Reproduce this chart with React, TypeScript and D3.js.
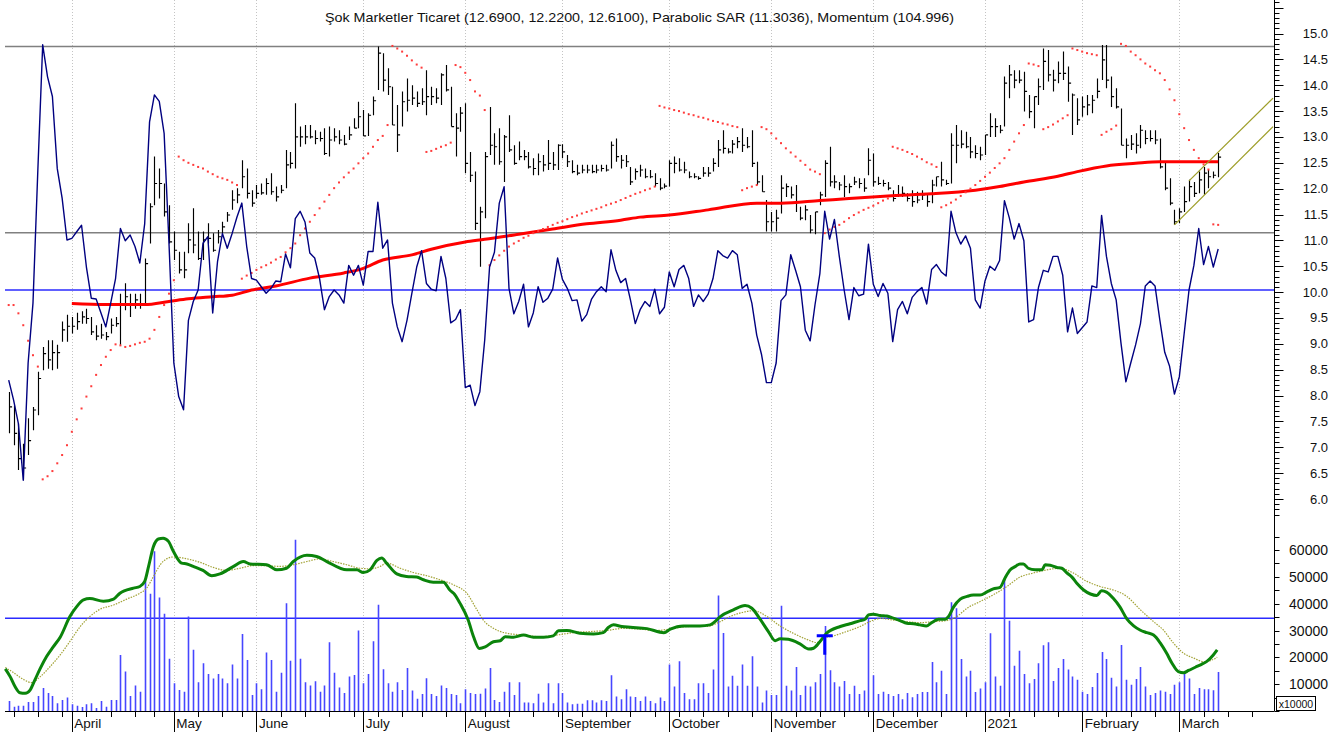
import * as d3 from "d3";

const W = 1341;
const H = 738;

const title =
  "Şok Marketler Ticaret (12.6900, 12.2200, 12.6100), Parabolic SAR (11.3036), Momentum (104.996)";

// Borsa Istanbul closed days inside the range
const holidays = [
  "2020-04-23", "2020-05-01", "2020-05-19", "2020-05-25", "2020-05-26",
  "2020-07-15", "2020-07-31", "2020-08-03", "2020-10-29", "2021-01-01",
];

// daily bars, 13 Mar 2020 .. 11 Mar 2021
const high = [
  8.07, 7.81, 7.46, 7.07, 7.56, 7.78, 8.46, 8.94, 9.07, 9.07,
  8.98, 9.43, 9.56, 9.52, 9.6, 9.63, 9.68, 9.52, 9.36, 9.39,
  9.23, 9.49, 9.52, 9.97, 10.17, 9.97, 9.97, 9.97, 10.65, 11.72,
  12.62, 12.39, 12.1, 11.68, 11.17, 10.78, 10.78, 11.33, 11.62, 11.17,
  11.17, 11.33, 11.14, 11.2, 11.36, 11.55, 11.97, 12.01, 12.55, 12.39,
  11.97, 12.07, 12.1, 12.2, 12.3, 12.04, 12.07, 12.75, 12.71, 13.65,
  13.2, 13.23, 13.23, 13.13, 13.1, 13.17, 13.2, 13.17, 13.13, 13.04,
  13.2, 13.36, 13.68, 13.52, 13.46, 13.78, 14.75, 14.62, 14.33, 13.97,
  13.62, 13.88, 14.13, 14.0, 13.88, 13.94, 14.29, 13.97, 13.94, 14.23,
  14.39, 13.97, 13.46, 13.58, 13.65, 12.71, 12.33, 11.65, 12.71, 13.58,
  13.07, 13.17, 13.04, 13.42, 12.84, 12.91, 12.75, 12.71, 12.59, 12.68,
  12.65, 12.94, 12.71, 12.86, 12.86, 12.65, 12.55, 12.46, 12.46, 12.46,
  12.46, 12.46, 12.46, 12.46, 12.91, 12.97, 12.65, 12.65, 12.42, 12.39,
  12.46, 12.39, 12.36, 12.3, 12.2, 12.1, 12.55, 12.62, 12.59, 12.52,
  12.33, 12.3, 12.24, 12.42, 12.42, 12.59, 12.94, 13.13, 12.78, 12.94,
  13.0, 13.17, 13.0, 13.13, 12.52, 12.26, 11.78, 11.55, 11.59, 12.26,
  12.1, 12.04, 12.07, 11.65, 11.68, 11.49, 11.55, 11.94, 12.55, 12.81,
  12.26, 12.13, 12.26, 12.1, 12.23, 12.2, 12.2, 12.78, 12.68, 12.23,
  12.17, 12.13, 11.97, 12.07, 12.04, 11.91, 11.97, 11.94, 11.97, 11.91,
  12.17, 12.23, 12.52, 12.17, 13.07, 13.23, 13.13, 13.1, 13.0, 12.84,
  12.81, 13.04, 13.46, 13.36, 13.23, 14.17, 14.39, 14.29, 14.29, 14.26,
  13.81, 13.78, 14.13, 14.71, 14.68, 14.3, 14.46, 14.65, 14.36, 13.84,
  13.75, 13.78, 13.81, 13.81, 14.13, 14.78, 14.78, 14.17, 13.94, 13.55,
  12.97, 13.04, 13.07, 13.23, 13.13, 13.13, 13.13, 12.97, 12.52, 12.2,
  11.59, 11.62, 12.04, 12.17, 12.13, 12.33, 12.42, 12.36, 12.33, 12.69,
];

const low = [
  7.27, 7.04, 6.56, 6.37, 6.85, 7.33, 7.62, 8.49, 8.52, 8.49,
  8.52, 9.04, 9.04, 9.2, 9.27, 9.39, 9.39, 9.17, 9.07, 9.1,
  9.07, 9.2, 9.33, 8.98, 9.65, 9.52, 9.68, 9.68, 9.78, 10.94,
  11.68, 11.81, 11.46, 10.94, 10.62, 10.36, 10.27, 10.75, 10.75, 10.62,
  10.62, 10.94, 10.78, 10.94, 11.14, 11.36, 11.59, 11.72, 12.01, 11.81,
  11.65, 11.81, 11.88, 11.88, 11.88, 11.75, 11.91, 12.01, 12.39, 12.39,
  12.81, 12.86, 12.97, 12.86, 12.91, 12.65, 12.62, 12.91, 12.86, 12.84,
  12.94, 13.17, 13.17, 13.02, 13.02, 13.42, 13.91, 13.88, 13.81, 13.23,
  12.71, 13.2, 13.49, 13.62, 13.58, 13.62, 13.42, 13.62, 13.65, 13.62,
  13.88, 13.2, 12.62, 13.1, 12.3, 12.13, 11.2, 10.49, 11.43, 12.65,
  12.46, 12.46, 12.13, 12.71, 12.46, 12.55, 12.55, 12.39, 12.26, 12.26,
  12.33, 12.36, 12.36, 12.36, 12.59, 12.42, 12.3, 12.26, 12.3, 12.3,
  12.3, 12.3, 12.33, 12.33, 12.39, 12.52, 12.39, 12.42, 12.07, 12.17,
  12.23, 12.2, 12.2, 12.04, 11.97, 12.01, 12.04, 12.3, 12.33, 12.3,
  12.2, 12.2, 12.17, 12.23, 12.23, 12.33, 12.42, 12.68, 12.68, 12.68,
  12.78, 12.71, 12.78, 12.42, 12.07, 11.94, 11.17, 11.17, 11.17, 11.52,
  11.84, 11.81, 11.55, 11.39, 11.39, 11.14, 11.12, 11.68, 11.84, 12.04,
  12.01, 11.97, 11.84, 11.91, 12.07, 12.01, 11.94, 12.26, 12.04, 12.07,
  12.04, 11.97, 11.75, 11.84, 11.84, 11.75, 11.65, 11.72, 11.78, 11.65,
  11.72, 12.04, 12.04, 12.07, 12.1, 12.49, 12.78, 12.78, 12.59, 12.59,
  12.55, 12.65, 13.0, 13.0, 13.07, 13.2, 13.75, 13.94, 14.04, 13.49,
  13.36, 13.17, 13.62, 13.91, 14.07, 13.88, 14.04, 14.1, 13.68, 13.04,
  13.23, 13.39, 13.42, 13.46, 13.75, 14.1, 13.94, 13.58, 13.55, 12.84,
  12.59, 12.75, 12.68, 12.78, 12.86, 12.91, 12.86, 12.39, 11.97, 11.68,
  11.3, 11.33, 11.55, 11.75, 11.84, 11.91, 11.88, 12.01, 12.2, 12.22,
];

const close = [
  7.78, 7.27, 6.78, 6.6, 7.13, 7.72, 8.33, 8.81, 8.69, 8.83,
  8.83, 9.27, 9.34, 9.34, 9.43, 9.52, 9.49, 9.23, 9.15, 9.17,
  9.14, 9.36, 9.39, 9.78, 9.91, 9.78, 9.85, 9.75, 10.55, 11.65,
  12.1, 12.1, 11.55, 10.97, 10.81, 10.43, 10.43, 11.01, 10.91, 10.65,
  11.01, 11.04, 10.81, 11.07, 11.26, 11.49, 11.78, 11.88, 12.23, 11.91,
  11.72, 11.91, 11.92, 12.1, 11.94, 11.84, 11.97, 12.46, 12.49, 13.0,
  13.0, 13.0, 13.0, 12.97, 12.97, 12.68, 12.94, 13.0, 12.94, 12.86,
  13.04, 13.17, 13.39, 13.02, 13.42, 13.7, 14.62, 14.1, 13.97, 13.23,
  13.04, 13.68, 13.71, 13.75, 13.65, 13.68, 13.78, 13.78, 13.75, 14.2,
  13.91, 13.2, 13.17, 13.46, 12.49, 12.26, 11.33, 11.55, 12.62, 12.84,
  12.81, 12.52, 13.0, 12.75, 12.49, 12.62, 12.62, 12.42, 12.39, 12.52,
  12.46, 12.49, 12.46, 12.84, 12.71, 12.52, 12.33, 12.3, 12.36, 12.36,
  12.33, 12.36, 12.39, 12.36, 12.84, 12.62, 12.55, 12.52, 12.13, 12.33,
  12.36, 12.23, 12.23, 12.1, 12.01, 12.05, 12.49, 12.49, 12.36, 12.36,
  12.23, 12.23, 12.2, 12.3, 12.3, 12.49, 12.75, 12.78, 12.71, 12.86,
  12.91, 12.84, 12.81, 12.49, 12.13, 11.94, 11.36, 11.36, 11.43, 12.01,
  12.04, 11.88, 11.75, 11.43, 11.59, 11.2, 11.55, 11.88, 12.49, 12.13,
  12.13, 12.07, 12.04, 12.04, 12.13, 12.1, 12.01, 12.55, 12.13, 12.1,
  12.1, 12.01, 11.81, 11.88, 11.91, 11.81, 11.75, 11.78, 11.88, 11.75,
  12.07, 12.23, 12.17, 12.1, 12.84, 12.84, 12.86, 12.81, 12.71, 12.68,
  12.65, 13.04, 13.2, 13.2, 13.13, 14.04, 14.2, 14.1, 14.1, 13.88,
  13.49, 13.78, 13.97, 14.46, 14.2, 14.1, 14.23, 14.23, 14.04, 13.81,
  13.33, 13.58, 13.62, 13.71, 13.88, 14.49, 14.1, 13.78, 13.58, 12.84,
  12.84, 12.86, 12.84, 13.13, 12.97, 12.97, 12.94, 12.42, 12.01, 11.72,
  11.36, 11.55, 11.75, 12.04, 11.91, 12.17, 12.3, 12.23, 12.26, 12.61,
];

const momentum = [
  89.0, 86.6, 83.7, 76.8, 91.1, 98.4, 114.6, 129.9, 126.0, 123.6,
  114.8, 111.2, 106.1, 106.3, 107.1, 107.9, 102.8, 99.0, 98.9, 97.2,
  95.5, 98.4, 101.4, 107.5, 106.0, 106.7, 105.3, 103.3, 108.1, 120.5,
  123.8, 123.0, 119.1, 105.7, 91.1, 87.0, 85.4, 96.3, 98.6, 100.0,
  105.7, 106.5, 97.2, 103.5, 106.9, 105.1, 106.9, 108.9, 110.6, 105.3,
  101.4, 101.2, 100.4, 99.6, 100.2, 101.1, 101.0, 104.4, 102.7, 108.7,
  109.6, 108.3, 104.5, 103.9, 101.4, 97.6, 99.2, 100.0, 99.4, 98.4,
  103.0, 101.8, 103.0, 100.6, 104.7, 104.7, 110.7, 105.1, 106.1, 98.4,
  95.5, 93.7, 96.3, 99.6, 102.8, 104.8, 100.8, 100.1, 99.9, 104.1,
  101.4, 96.0, 96.4, 97.6, 88.1, 88.4, 85.9, 87.6, 93.9, 102.8,
  104.6, 110.6, 112.6, 100.2, 97.1, 98.6, 100.7, 95.5, 97.2, 100.4,
  98.5, 99.0, 100.1, 103.9, 101.3, 100.2, 98.7, 98.8, 96.2, 97.0,
  98.9, 99.8, 100.4, 99.8, 104.9, 102.4, 100.9, 101.4, 98.8, 95.9,
  97.6, 98.6, 98.0, 100.1, 97.1, 97.9, 102.2, 100.4, 102.5, 103.0,
  101.4, 98.0, 99.4, 98.6, 99.5, 101.4, 104.8, 104.2, 103.9, 104.8,
  104.3, 100.2, 100.7, 98.4, 94.5, 92.1, 88.7, 88.7, 91.1, 98.7,
  99.4, 104.3, 102.4, 100.4, 95.1, 93.8, 98.2, 102.0, 109.6, 106.2,
  108.6, 104.1, 100.0, 96.4, 100.3, 99.3, 99.5, 105.6, 100.7, 99.2,
  100.8, 99.6, 93.7, 97.6, 98.6, 97.1, 99.1, 99.8, 100.3, 98.3,
  102.5, 103.1, 102.2, 101.7, 109.6, 107.0, 105.6, 106.6, 105.1, 98.8,
  97.8, 101.1, 102.9, 102.4, 103.6, 110.9, 108.8, 106.2, 108.1, 106.0,
  96.1, 96.4, 100.3, 102.4, 102.2, 104.1, 104.1, 101.8, 94.9, 97.8,
  94.7, 95.4, 96.1, 100.5, 100.3, 109.1, 104.1, 100.8, 98.8, 93.5,
  88.8, 91.1, 93.3, 95.9, 100.5, 101.1, 100.5, 96.3, 92.4, 90.7,
  87.3, 89.4, 94.7, 100.0, 103.0, 107.5, 103.1, 105.3, 102.8, 105.0,
];

const sar = [
  9.75, 9.75, 9.59, 9.36, 9.06, 8.78, 8.56, 6.38, 6.44, 6.54,
  6.69, 6.85, 7.04, 7.3, 7.54, 7.75, 7.98, 8.18, 8.4, 8.59,
  8.75, 8.88, 8.99, 8.97, 8.94, 8.96, 8.99, 9.02, 9.04, 9.1,
  9.27, 9.52, 9.75, 9.97, 10.23, 12.62, 12.55, 12.5, 12.46, 12.42,
  12.39, 12.33, 12.28, 12.23, 12.2, 12.17, 12.12, 12.07, 10.26, 10.32,
  10.37, 10.43, 10.48, 10.52, 10.57, 10.63, 10.68, 10.77, 10.85, 10.94,
  11.1, 11.23, 11.36, 11.49, 11.62, 11.75, 11.88, 12.01, 12.12, 12.22,
  12.31, 12.39, 12.49, 12.59, 12.68, 12.81, 12.94, 13.02, 13.23, 14.76,
  14.71, 14.65, 14.57, 14.48, 14.4, 14.34, 12.71, 12.73, 12.77, 12.81,
  12.84, 12.89, 14.39, 14.35, 14.24, 14.1, 13.88, 13.8, 13.52, 10.52,
  10.62, 10.71, 10.8, 10.88, 10.94, 10.99, 11.05, 11.09, 11.14, 11.18,
  11.22, 11.26, 11.3, 11.34, 11.37, 11.41, 11.45, 11.48, 11.52, 11.55,
  11.58, 11.61, 11.64, 11.68, 11.71, 11.74, 11.78, 11.82, 11.86, 11.9,
  11.93, 11.97, 12.0, 12.04, 13.6, 13.57, 13.55, 13.52, 13.5, 13.47,
  13.44, 13.42, 13.39, 13.37, 13.34, 13.31, 13.29, 13.26, 13.24, 13.21,
  13.19, 11.97, 12.01, 12.04, 12.07, 13.19, 13.15, 13.07, 12.97, 12.88,
  12.78, 12.7, 12.62, 12.54, 12.46, 12.37, 12.33, 12.28, 11.14, 11.21,
  11.26, 11.3, 11.36, 11.43, 11.49, 11.54, 11.59, 11.63, 11.67, 11.72,
  11.77, 11.81, 12.81, 12.78, 12.75, 12.71, 12.67, 12.62, 12.57, 12.51,
  12.47, 12.42, 11.64, 11.68, 11.73, 11.79, 11.86, 11.93, 12.0, 12.07,
  12.15, 12.23, 12.31, 12.4, 12.49, 12.59, 12.75, 12.91, 13.07, 13.23,
  14.42, 14.4, 14.37, 13.15, 13.19, 13.24, 13.3, 13.36, 13.42, 14.71,
  14.68, 14.65, 14.62, 14.6, 14.58, 13.04, 13.1, 13.15, 13.22, 14.8,
  14.76, 14.65, 14.58, 14.5, 14.42, 14.36, 14.29, 14.23, 14.1, 13.92,
  13.71, 13.44, 13.17, 12.94, 12.75, 12.59, 12.47, 12.37, 11.31, 11.3,
];

// volume in thousands (axis labels count in these units x 1000)
const volume = [
  3.7, 1.6, 2.0, 2.0, 3.4, 3.4, 5.6, 8.6, 6.7, 5.6,
  2.9, 4.1, 5.0, 2.5, 2.0, 1.5, 2.5, 2.9, 1.1, 3.7,
  1.6, 4.1, 4.1, 20.9, 14.7, 5.6, 9.5, 7.2, 48.3, 43.7,
  59.5, 42.3, 36.2, 19.5, 10.3, 7.8, 7.2, 35.2, 22.8, 10.7,
  17.8, 13.8, 12.1, 13.8, 12.1, 10.3, 17.3, 12.1, 28.7, 19.0,
  6.0, 10.3, 8.1, 21.8, 19.0, 7.2, 14.3, 40.2, 18.7, 63.8,
  19.5, 10.7, 9.5, 11.1, 7.2, 9.5, 25.6, 14.3, 8.8, 6.7,
  12.9, 13.4, 30.0, 10.3, 13.8, 26.0, 39.6, 15.6, 10.3, 7.2,
  10.7, 7.8, 16.0, 7.6, 4.6, 6.3, 12.2, 6.3, 5.6, 9.5,
  8.6, 6.3, 6.0, 2.9, 8.1, 6.7, 6.3, 6.4, 8.4, 16.0,
  4.1, 3.4, 7.2, 10.7, 6.0, 10.7, 3.2, 3.2, 2.9, 6.4,
  3.2, 10.3, 2.9, 10.3, 6.7, 3.2, 2.5, 2.7, 2.7, 4.0,
  4.0, 3.2, 4.0, 3.7, 13.3, 5.4, 4.4, 8.1, 5.4, 5.2,
  3.7, 5.4, 3.7, 2.9, 5.0, 3.7, 17.3, 9.1, 18.5, 6.7,
  4.4, 4.4, 10.3, 10.3, 6.7, 15.5, 43.0, 29.1, 9.1, 13.1,
  9.4, 17.3, 9.4, 20.4, 9.1, 3.2, 7.6, 6.0, 6.0, 39.2,
  9.4, 7.6, 16.4, 6.0, 9.4, 9.1, 10.7, 13.8, 31.7, 15.2,
  10.7, 9.1, 11.2, 6.3, 9.4, 6.3, 7.6, 34.6, 13.3, 6.3,
  7.2, 6.3, 5.6, 6.3, 4.4, 6.7, 5.1, 6.3, 7.1, 7.1,
  18.3, 10.7, 15.0, 6.3, 40.5, 38.3, 19.4, 12.9, 15.0, 7.1,
  8.4, 10.7, 29.0, 12.9, 9.4, 48.9, 33.6, 16.9, 22.5, 13.8,
  10.3, 11.9, 17.8, 24.5, 25.6, 11.2, 16.0, 19.4, 15.5, 12.9,
  11.6, 7.2, 6.3, 8.9, 14.2, 22.0, 19.4, 12.4, 9.1, 24.6,
  11.6, 9.8, 11.9, 16.4, 9.1, 6.0, 6.7, 7.6, 7.2, 6.3,
  9.8, 10.7, 14.2, 12.1, 6.3, 8.6, 8.1, 8.1, 7.7, 14.5,
];

// long moving average of price: [bar, value]
const priceMa: [number, number][] = [
  [13, 9.78], [20, 9.76], [28, 9.76], [33, 9.82], [37, 9.87], [42, 9.91],
  [46, 9.94], [50, 10.04], [55, 10.12], [62, 10.27], [69, 10.37], [73, 10.46],
  [77, 10.62], [83, 10.72], [87, 10.83], [94, 10.97], [98, 11.02], [105, 11.12],
  [112, 11.22], [119, 11.32], [126, 11.39], [130, 11.45], [136, 11.49], [144, 11.59],
  [154, 11.72], [159, 11.72], [167, 11.77], [173, 11.81], [181, 11.86], [190, 11.9],
  [199, 11.97], [204, 12.04], [209, 12.13], [216, 12.24], [220, 12.33], [226, 12.44],
  [232, 12.49], [237, 12.52], [249, 12.52],
];

// volume averages (thousands): [bar, value]
const volMaFast: [number, number][] = [
  [-0.7, 15.7], [0.3, 12.8], [1.3, 9.1], [2.3, 6.8], [3.4, 6.6], [4.4, 7.8], [5.4, 11.6],
  [6.5, 15.9], [7.8, 20.3], [9.2, 24.0], [10.6, 27.5], [12.6, 35.2], [14.0, 38.9],
  [15.4, 41.4], [16.7, 41.9], [19.5, 40.9], [21.6, 41.7], [22.9, 43.9], [25.7, 45.8],
  [27.0, 46.4], [28.0, 48.3], [28.8, 53.9], [29.8, 61.3], [30.8, 64.1], [31.8, 64.4],
  [32.9, 63.2], [33.9, 59.5], [35.6, 55.1], [36.7, 54.8], [38.0, 53.9], [40.0, 52.4],
  [41.8, 50.4], [43.5, 51.1], [46.3, 53.9], [48.3, 55.7], [49.7, 54.8], [53.1, 54.5],
  [55.2, 52.6], [57.2, 53.2], [58.6, 55.7], [61.4, 58.0], [63.4, 57.6], [65.5, 55.7],
  [69.6, 52.6], [71.7, 52.6], [73.0, 51.6], [74.4, 52.6], [75.8, 56.1], [76.8, 57.0],
  [77.8, 55.1], [79.9, 51.1], [81.9, 50.1], [84.0, 49.9], [85.4, 48.9], [87.4, 48.0],
  [89.5, 48.0], [90.9, 44.9], [91.6, 43.9], [92.9, 40.2], [94.6, 33.9], [95.7, 27.7],
  [96.9, 23.3], [98.1, 23.9], [99.8, 25.8], [101.2, 26.2], [102.2, 27.7], [103.9, 27.5],
  [106, 28.3], [108, 27.5], [110.1, 27.5], [112.1, 28.0], [113.2, 29.9], [114.9, 30.0],
  [117.6, 29.0], [120.4, 28.7], [122.4, 29.2], [123.5, 31.2], [124.5, 32.1], [126.2, 31.5],
  [128, 31.2], [131.4, 30.7], [134.9, 29.2], [136.2, 30.5], [138.9, 31.7], [142.3, 31.7],
  [144.4, 32.1], [145.4, 33.3], [146.5, 35.2], [149.2, 37.7], [151.6, 39.3], [153, 38.3],
  [154.7, 34.2], [156.4, 29.6], [157.8, 26.2], [158.8, 26.9], [160.5, 26.7], [162.9, 25.0],
  [164.7, 23.1], [165.7, 23.4], [167, 25.8], [168.4, 29.0], [171.2, 31.5], [173.2, 32.5],
  [175.3, 33.7], [176.3, 34.2], [177, 35.8], [178, 36.1], [179.4, 35.6], [180.8, 35.4],
  [182.1, 34.6], [183.5, 33.7], [184.9, 32.7], [186.3, 32.5], [187.6, 32.1], [188.9, 31.7],
  [190, 32.9], [191.4, 34.2], [192.8, 34.2], [193.5, 35.2], [194.5, 38.7], [195.9, 41.7],
  [197.3, 42.7], [198.6, 43.2], [200, 43.2], [201.4, 44.4], [202.7, 45.5], [204.1, 46.1],
  [205.1, 49.5], [206.2, 52.6], [207.2, 53.8], [208.2, 54.8], [208.9, 54.8], [209.9, 53.2],
  [211.3, 52.6], [212.7, 52.6], [213.4, 54.5], [214.4, 54.3], [215.8, 53.5], [216.8, 53.2],
  [217.9, 51.4], [218.9, 49.9], [219.9, 47.6], [221.3, 45.1], [222.7, 43.6], [224, 43.0],
  [225, 44.8], [226, 44.3], [227.4, 42.0], [228.8, 38.7], [230.2, 34.3], [231.6, 31.7],
  [232.9, 30.2], [234.3, 29.2], [235.7, 28.3], [237.1, 25.3], [238.4, 21.5], [239.5, 17.8],
  [240.8, 14.7], [241.9, 14.3], [242.9, 15.1], [244.3, 16.3], [245.6, 17.4], [246.6, 18.4],
  [248, 20.9], [248.8, 22.8],
];

const volMaSlow: [number, number][] = [
  [-0.7, 16.2], [1.0, 14.3], [3.0, 11.8], [4.7, 10.6], [6.5, 12.8], [8.5, 16.5],
  [10.6, 20.9], [12.6, 25.9], [14.7, 31.4], [16.7, 35.2], [18.8, 37.9], [21.6, 39.5],
  [24.3, 41.7], [27.0, 43.9], [28.4, 45.8], [29.8, 50.1], [31.2, 54.5], [32.5, 56.7],
  [33.9, 57.4], [36.7, 56.7], [39.4, 55.4], [42.1, 53.5], [44.9, 52.4], [47.6, 53.2],
  [50.4, 54.2], [53.1, 54.1], [55.9, 53.9], [58.6, 54.5], [61.4, 55.7], [64.1, 56.7],
  [66.8, 55.7], [69.6, 54.5], [72.3, 53.2], [74.4, 53.0], [76.5, 53.9], [77.8, 55.1],
  [80.6, 53.2], [83.3, 51.6], [86.1, 50.4], [88.8, 48.9], [91.6, 47.0], [94.3, 43.9],
  [96.4, 37.7], [97.7, 33.9], [99.8, 30.8], [102.5, 29.0], [106, 28.3], [109.4, 27.7],
  [112.8, 28.3], [116.3, 29.2], [119.7, 29.6], [123.1, 30.0], [126.6, 30.8], [130, 30.5],
  [133.4, 30.0], [136.9, 30.8], [140.3, 31.5], [143.7, 31.5], [145.8, 32.7], [148.5, 35.2],
  [152, 37.1], [153.3, 37.4], [156.1, 35.2], [158.8, 31.7], [161.5, 29.0], [164.3, 26.7],
  [166.4, 25.5], [167.8, 27.1], [169.8, 28.0], [172.5, 29.6], [175.3, 31.5], [177.3, 33.3],
  [179.4, 34.5], [182.1, 33.9], [184.9, 33.3], [187.6, 32.9], [190.4, 33.3], [193.1, 33.7],
  [195.2, 35.2], [197.3, 38.3], [200, 40.8], [202.7, 43.3], [205.5, 46.4], [208.2, 49.9],
  [210.9, 51.4], [213.7, 52.6], [216.5, 53.2], [219.2, 51.4], [222, 48.3], [224.7, 46.4],
  [227.4, 45.1], [230.2, 42.7], [233, 37.7], [235.7, 33.3], [237.7, 30.2], [239.8, 25.3],
  [241.9, 21.5], [244, 19.7], [246, 18.4], [247.4, 18.8], [248.8, 20.0],
];

const priceLevels = [14.75, 11.15];
const volumeLevel = 34.6;
const momentumBase = 100;

// trend channel drawn on the last leg: [bar, price] pairs
const channel: [number, number][][] = [
  [[240, 11.3], [260.3, 13.2]],
  [[243, 12.15], [260.3, 13.75]],
];

// signal marker in the volume pane
const signal = { bar: 168, top: 28, bottom: 21 };

const FONT = "'Liberation Sans', Arial, Helvetica, sans-serif";

export default function App() {
  const left = 5;
  const right = 1274.5;
  const volBase = 711;

  const x = d3.scaleLinear().domain([-0.76, 260.7]).range([left, right + 0.5]);
  const yPrice = d3.scaleLinear().domain([6, 15]).range([499, 33.5]);
  const yMom = d3.scaleLinear().domain([100, 105]).range([290, 249]);
  const yVol = d3.scaleLinear().domain([0, 60]).range([volBase, 550]);

  // trading calendar
  const fmt = d3.timeFormat("%Y-%m-%d");
  const closed = new Set(holidays);
  const days = d3.timeDay
    .range(new Date(2020, 2, 13), new Date(2021, 3, 5))
    .filter((d) => d.getDay() !== 0 && d.getDay() !== 6 && !closed.has(fmt(d)))
    .filter((_, i) => i <= 260);

  const weekTicks: number[] = [];
  const monthTicks: { i: number; label: string }[] = [];
  days.forEach((d, i) => {
    if (i === 0) return;
    const p = days[i - 1];
    if (d3.timeMonday.floor(d).getTime() !== d3.timeMonday.floor(p).getTime()) weekTicks.push(i);
    if (d.getMonth() !== p.getMonth()) {
      monthTicks.push({
        i,
        label: d.getMonth() === 0 ? String(d.getFullYear()) : d3.timeFormat("%B")(d),
      });
    }
  });

  // bars
  let barPath = "";
  high.forEach((h, i) => {
    const bx = Math.round(x(i)) + 0.5;
    barPath += `M${bx},${yPrice(h)}V${yPrice(low[i])}`;
    barPath += `M${bx},${yPrice(close[i])}h2.6`;
  });

  let volPath = "";
  volume.forEach((v, i) => {
    const bx = Math.round(x(i)) + 0.5;
    volPath += `M${bx},${yVol(0)}V${yVol(v)}`;
  });

  const maLine = d3
    .line<[number, number]>()
    .x((d) => x(d[0]))
    .y((d) => yPrice(d[1]))
    .curve(d3.curveMonotoneX);

  const momLine = d3
    .line<number>()
    .x((_, i) => x(i))
    .y((d) => yMom(d));

  const volLine = d3
    .line<[number, number]>()
    .x((d) => x(d[0]))
    .y((d) => yVol(d[1]))
    .curve(d3.curveMonotoneX);

  const priceTicks = d3.range(57, 157).map((t) => t / 10);
  const volTicks = d3.range(0, 70, 5);

  const sx = x(signal.bar);

  return (
    <svg
      width={W}
      height={H}
      viewBox={`0 0 ${W} ${H}`}
      style={{ position: "absolute", left: 0, top: 0, background: "#fff" }}
      fontFamily={FONT}
    >
      <rect width={W} height={H} fill="#fff" />

      {/* month grid */}
      {monthTicks.map((m) => (
        <line
          key={`g${m.i}`}
          x1={Math.round(x(m.i)) + 0.5}
          x2={Math.round(x(m.i)) + 0.5}
          y1={0}
          y2={volBase}
          stroke="#c4c4c4"
          strokeDasharray="1,2"
        />
      ))}

      {/* reference levels */}
      {priceLevels.map((p) => (
        <line key={p} x1={left} x2={right} y1={yPrice(p)} y2={yPrice(p)} stroke="#808080" strokeWidth={1.5} />
      ))}
      <line x1={left} x2={right} y1={yMom(momentumBase)} y2={yMom(momentumBase)} stroke="#2b2bff" strokeWidth={1.5} />
      <line x1={left} x2={right} y1={yVol(volumeLevel)} y2={yVol(volumeLevel)} stroke="#2b2bff" strokeWidth={1.5} />

      {/* volume */}
      <path d={volPath} stroke="#4646ff" strokeWidth={1.6} fill="none" />
      <path d={volLine(volMaSlow) ?? ""} fill="none" stroke="#a3a337" strokeWidth={1.2} strokeDasharray="1.5,1.2" />
      <path d={volLine(volMaFast) ?? ""} fill="none" stroke="#0b840b" strokeWidth={3} strokeLinejoin="round" />
      <path
        d={`M${sx - 8},${yVol(signal.top)}H${sx + 8}M${sx},${yVol(signal.top)}V${yVol(signal.bottom)}`}
        stroke="#0000ff"
        strokeWidth={3}
        fill="none"
      />

      {/* price bars */}
      <path d={barPath} stroke="#000" strokeWidth={1.15} fill="none" />

      {/* moving average */}
      <path d={maLine(priceMa) ?? ""} fill="none" stroke="#ff0000" strokeWidth={3} />

      {/* parabolic SAR */}
      {sar.map((s, i) => (
        <rect key={`s${i}`} x={x(i) - 1} y={yPrice(s) - 1} width={2} height={2} fill="#ff3b3b" />
      ))}

      {/* momentum */}
      <path d={momLine(momentum) ?? ""} fill="none" stroke="#000080" strokeWidth={1.4} strokeLinejoin="round" />

      {/* trend channel */}
      {channel.map((seg, k) => (
        <line
          key={`c${k}`}
          x1={x(seg[0][0])}
          y1={yPrice(seg[0][1])}
          x2={x(seg[1][0])}
          y2={yPrice(seg[1][1])}
          stroke="#9e9e2a"
          strokeWidth={1.3}
        />
      ))}

      {/* right axis */}
      <line x1={right} x2={right} y1={0} y2={volBase} stroke="#000" />
      {priceTicks.map((t) => {
        const major = Math.round(t * 10) % 5 === 0;
        const y = Math.round(yPrice(t)) + 0.5;
        return <line key={`pt${t}`} x1={right} x2={right + (major ? 9 : 5)} y1={y} y2={y} stroke="#000" />;
      })}
      {priceTicks
        .filter((t) => Math.round(t * 10) % 5 === 0 && t >= 6 && t <= 15)
        .map((t) => (
          <text key={`pl${t}`} x={1328} y={yPrice(t) + 4.5} textAnchor="end" fontSize={13} fill="#111">
            {t.toFixed(1)}
          </text>
        ))}
      {volTicks.map((t) => {
        const y = Math.round(yVol(t)) + 0.5;
        return <line key={`vt${t}`} x1={right} x2={right + 5} y1={y} y2={y} stroke="#000" />;
      })}
      {volTicks
        .filter((t) => t >= 10 && t <= 60 && t % 10 === 0)
        .map((t) => (
          <text key={`vl${t}`} x={1328} y={yVol(t) + 5} textAnchor="end" fontSize={14} fill="#111">
            {t * 1000}
          </text>
        ))}
      <rect x={1276.5} y={696.5} width={39} height={14} fill="#fff" stroke="#000" />
      <text x={1296} y={708} textAnchor="middle" fontSize={10.5} fill="#111">
        x10000
      </text>

      {/* bottom axis */}
      <line x1={left} x2={right} y1={volBase + 0.5} y2={volBase + 0.5} stroke="#000" />
      {weekTicks.map((i) => (
        <line
          key={`w${i}`}
          x1={Math.round(x(i)) + 0.5}
          x2={Math.round(x(i)) + 0.5}
          y1={volBase}
          y2={volBase + 6}
          stroke="#000"
        />
      ))}
      {monthTicks.map((m) => (
        <g key={`m${m.i}`}>
          <line
            x1={Math.round(x(m.i)) + 0.5}
            x2={Math.round(x(m.i)) + 0.5}
            y1={volBase}
            y2={volBase + 21}
            stroke="#000"
          />
          <text x={x(m.i) + 2.5} y={728} fontSize={13.5} fill="#111">
            {m.label}
          </text>
        </g>
      ))}

      {/* title */}
      <text x={639.5} y={22} textAnchor="middle" fontSize={13} fill="#111" textLength={629} lengthAdjust="spacingAndGlyphs">
        {title}
      </text>
    </svg>
  );
}
